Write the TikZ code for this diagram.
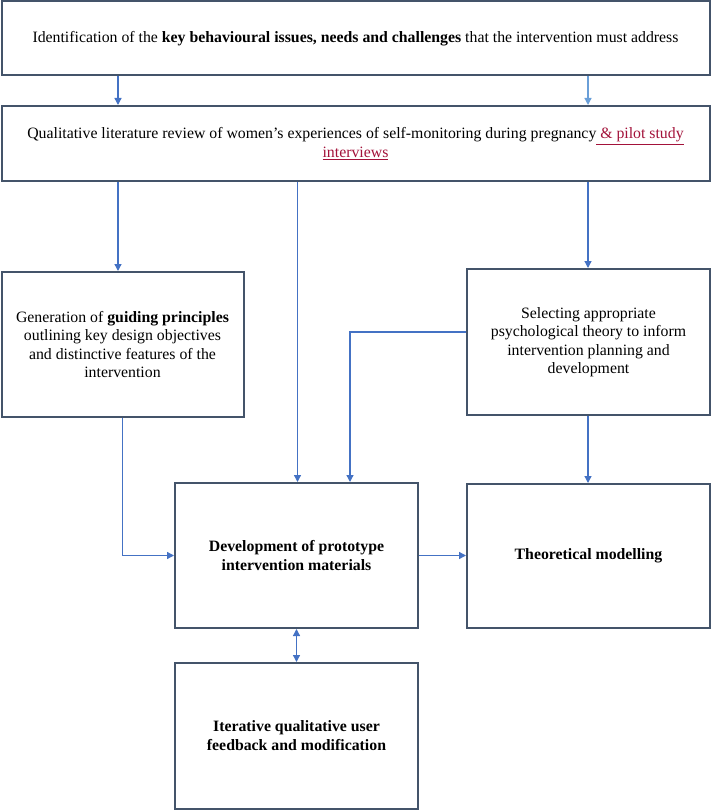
\documentclass[tikz,border=0pt]{standalone}
\usepackage{fontspec}
\setmainfont{Liberation Serif}
\usetikzlibrary{arrows.meta}
\definecolor{boxline}{HTML}{44546A}
\definecolor{arrblue}{HTML}{4472C4}
\definecolor{arrlight}{HTML}{6A9FD8}
\definecolor{linkred}{HTML}{A3123A}
\begin{document}
\begin{tikzpicture}[x=1pt,y=-1pt,
  box/.style={draw=boxline,line width=2pt,fill=white,align=center,inner sep=0pt,
    font=\fontsize{15.8}{18.5}\selectfont},
  arr/.style={draw=arrblue,line width=1.3pt,-{Triangle[length=7pt,width=7pt]}},
  darr/.style={draw=arrblue,line width=1.3pt,{Triangle[length=7pt,width=7pt]}-{Triangle[length=7pt,width=7pt]}}]
\useasboundingbox (0,0) rectangle (711,810);
\node[box,minimum width=708pt,minimum height=74pt] (b1) at (355.5,38.5)
  {Identification of the \textbf{key behavioural issues, needs and challenges} that the intervention must address};
\node[box,minimum width=708pt,minimum height=75.5pt] (b2) at (355.5,143.75)
  {Qualitative literature review of women’s experiences of self-monitoring during pregnancy\textcolor{linkred}{\underline{ \& pilot study}}\\
   \textcolor{linkred}{\underline{interviews}}};
\node[box,minimum width=242pt,minimum height=145pt] (gen) at (122.5,344.5)
  {Generation of \textbf{guiding principles}\\outlining key design objectives\\and distinctive features of the\\intervention};
\node[box,minimum width=243pt,minimum height=146pt] (sel) at (588.5,342)
  {Selecting appropriate\\psychological theory to inform\\intervention planning and\\development};
\node[box,minimum width=243pt,minimum height=145pt] (dev) at (296.5,555.5)
  {\textbf{Development of prototype}\\\textbf{intervention materials}};
\node[box,minimum width=243pt,minimum height=144pt] (theo) at (588.5,556)
  {\textbf{Theoretical modelling}};
\node[box,minimum width=243pt,minimum height=145.5pt] (iter) at (296.5,735.75)
  {\textbf{Iterative qualitative user}\\\textbf{feedback and modification}};
\coordinate (cL) at (118,0);
\coordinate (cR) at (588,0);
\coordinate (cM) at (297.5,0);
\coordinate (sd) at (350,332);
\draw[arr] (b1.south -| cL) -- (b2.north -| cL);
\draw[arr,draw=arrlight] (b1.south -| cR) -- (b2.north -| cR);
\draw[arr] (b2.south -| cL) -- (gen.north -| cL);
\draw[arr] (b2.south -| cM) -- (dev.north -| cM);
\draw[arr] (b2.south -| cR) -- (sel.north -| cR);
\draw[arr] (sel.west |- sd) -| (dev.north -| sd);
\draw[arr] (gen.south) |- (dev.west);
\draw[arr] (dev.east) -- (theo.west |- dev.east);
\draw[arr] (sel.south -| cR) -- (theo.north -| cR);
\draw[darr] (dev.south) -- (iter.north);
\end{tikzpicture}
\end{document}
